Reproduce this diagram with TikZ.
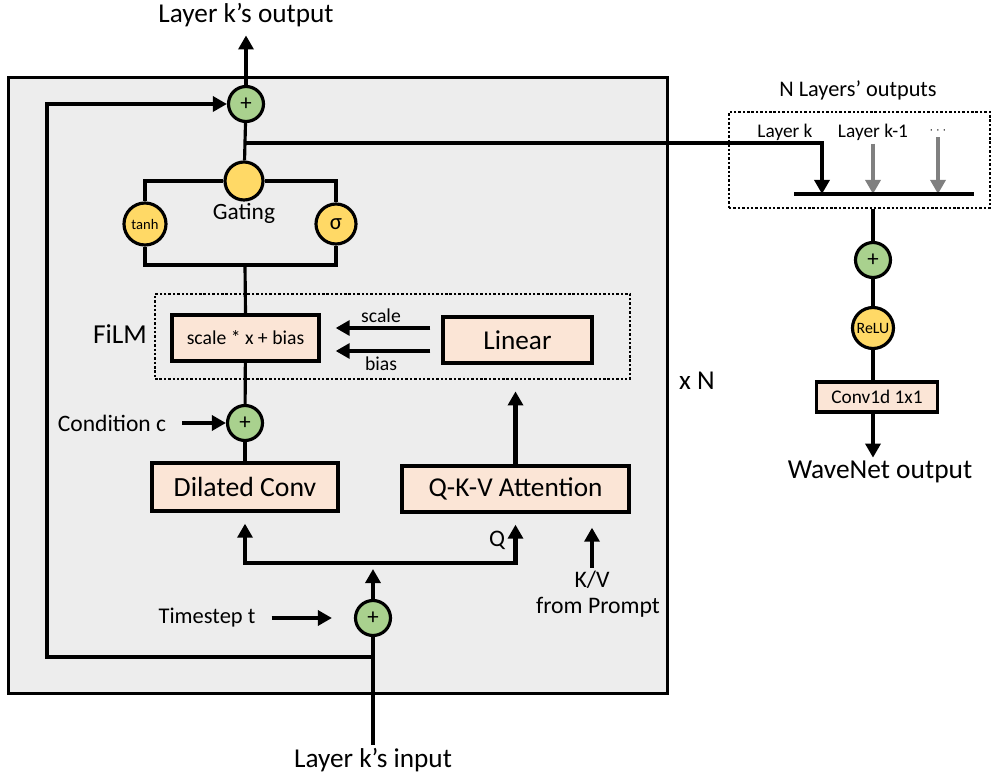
\documentclass[tikz,border=0pt]{standalone}
\usepackage{fontspec}
\setmainfont{Carlito}
\usepackage{tikz}
\usetikzlibrary{arrows.meta}
\usetikzlibrary{positioning}

\definecolor{addgreen}{HTML}{A9D18E}
\definecolor{gateyellow}{HTML}{FFD966}
\definecolor{boxpeach}{HTML}{FBE5D6}
\definecolor{layerbg}{HTML}{EDEDED}
\definecolor{otherlayer}{HTML}{808080}

\newcommand{\fsz}[1]{\fontsize{#1}{#1}\selectfont}

\begin{document}
\begin{tikzpicture}[x=0.02cm,y=-0.02cm,line width=1.8pt,
    >={Triangle[length=8pt,width=8.5pt]},
    arr/.style={->,line width=2.3pt},
    add node/.style={circle,draw,fill=addgreen,line width=1.8pt,inner sep=0pt,minimum size=0.7cm,font=\fsz{13}},
    gate node/.style={circle,draw,fill=gateyellow,line width=1.8pt,inner sep=0pt},
    block/.style={draw,fill=boxpeach,line width=1.9pt,inner sep=0pt},
    dot box/.style={draw,line width=1.6pt,dash pattern=on 1.4pt off 1.1pt,inner sep=0pt},
    lbl/.style={inner sep=1pt}]
  \useasboundingbox (0,0) rectangle (992,777);
  % the layer
  \node[draw,fill=layerbg,line width=1.7pt,minimum width=13.2cm,minimum height=12.34cm] (layer) at (338,385.5) {};
  \node[lbl,font=\fsz{15.5}] (outlbl) at (246,15) {Layer k’s output};
  \node[lbl,font=\fsz{15.5}] (inlbl) at (373,760) {Layer k’s input};
  \node[lbl,font=\fsz{15.5}] (xn) at (697,381) {x N};

  \node[add node] (addtop) at (246,104) {+};
  \node[gate node,minimum size=0.76cm] (gate) at (244,181) {};
  \node[lbl,font=\fsz{13.3}] (gatelbl) at (244,213) {Gating};
  \node[gate node,minimum size=0.84cm,font=\fsz{8.3}] (tanhc) at (145,224) {tanh};
  \node[gate node,minimum size=0.8cm,font=\fsz{13}] (sigc) at (336,224) {σ};
  \coordinate (gjoin) at (245,265);

  % FiLM
  \node[dot box,minimum width=9.5cm,minimum height=1.7cm] (film) at (392.5,336.5) {};
  \node[lbl,font=\fsz{15.6}] (filmlbl) at (120,334) {FiLM};
  \node[block,minimum width=2.94cm,minimum height=0.92cm,font=\fsz{11.2}] (scalebox) at (245.5,338) {scale * x + bias};
  \node[block,minimum width=2.98cm,minimum height=0.92cm,font=\fsz{15.5}] (linear) at (517.5,340) {Linear};

  \node[add node] (addcond) at (245,423) {+};
  \node[lbl,font=\fsz{13.4}] (condlbl) at (112,423) {Condition c};
  \node[block,minimum width=3.72cm,minimum height=0.96cm,font=\fsz{15.8}] (dilconv) at (245,487) {Dilated Conv};
  \node[block,minimum width=4.54cm,minimum height=0.92cm,font=\fsz{15.5}] (attn) at (515.5,489) {Q-K-V Attention};

  \coordinate (bus) at (373,563);
  \node[lbl,font=\fsz{13.5}] (qlbl) at (497,540) {Q};
  \node[lbl,font=\fsz{13.5}] (kvlbl) at (592,580) {K/V};
  \node[lbl,font=\fsz{13.5}] (promptlbl) at (598,607) {from Prompt};
  \node[add node] (addtime) at (373,618) {+};
  \node[lbl,font=\fsz{12.8}] (tlbl) at (207,618) {Timestep t};
  \coordinate (resc) at (373,657);
  \coordinate (resl) at (47,657);

  % the N layers
  \node[lbl,font=\fsz{12.7}] (stacklbl) at (858,90) {N Layers’ outputs};
  \node[dot box,minimum width=5.22cm,minimum height=1.92cm] (stack) at (859.5,160) {};
  \node[lbl,font=\fsz{11}] (lk) at (785,132) {Layer k};
  \node[lbl,font=\fsz{11}] (lk1) at (873,132) {Layer k-1};
  \node[lbl,font=\fsz{7}] (ldots) at (938,131) {$\cdots$};
  \coordinate (tap) at (246,143);
  \coordinate (barL) at (794,194);
  \coordinate (barK) at (822,194);
  \coordinate (barR) at (974,194);
  \node[add node] (addr) at (873,260) {+};
  \node[gate node,minimum size=0.82cm,font=\fsz{9}] (relu) at (873,328) {ReLU};
  \node[block,minimum width=2.42cm,minimum height=0.6cm,font=\fsz{11}] (conv) at (877,397) {Conv1d 1x1};
  \node[lbl,font=\fsz{15.6}] (wout) at (880,472) {WaveNet output};

  % connections in the layer
  \draw[arr,shorten >=3pt] (addtop) -- (outlbl);
  \draw (addtop) -- (gate);
  \draw (tanhc.north) |- (gate.west);
  \draw (sigc.north) |- (gate.east);
  \draw (tanhc.south) |- (gjoin) -| (sigc.south);
  \draw (gjoin) -- (scalebox.north);
  \draw[arr,shorten <=0.22cm,shorten >=0.3cm] ([yshift=0.24cm]linear.west) -- node[above,font=\fsz{11.2},inner sep=2pt] {scale} ([yshift=0.24cm]scalebox.east |- linear.west);
  \draw[arr,shorten <=0.22cm,shorten >=0.3cm] ([yshift=-0.22cm]linear.west) -- node[below,font=\fsz{11.2},inner sep=2pt] {bias} ([yshift=-0.22cm]scalebox.east |- linear.west);
  \draw (scalebox) -- (addcond);
  \draw (addcond) -- (dilconv);
  \draw[arr,shorten <=0.26cm] (condlbl.east) -- (addcond.west);
  \draw[arr,shorten >=0.22cm] (attn.north) -- (attn.north |- film.south);
  \draw[arr,shorten >=0.22cm] (bus) -| (dilconv.south);
  \draw[arr,shorten >=0.22cm] (bus) -| (attn.south);
  \draw[arr,shorten >=0.28cm] (kvlbl.north) -- (kvlbl.north |- attn.south);
  \draw[arr,shorten >=0.12cm] (addtime) -- (bus);
  \draw[arr,shorten <=0.26cm,shorten >=0.44cm] (tlbl.east) -- (addtime.west);
  \draw[line width=2.3pt] (inlbl.north) -- (addtime.south);
  \draw[arr] (resc) -- (resl) |- (addtop.west);

  % connections to the output
  \draw[arr] (tap) -| (barK);
  \draw[arr,otherlayer] (lk1.south) -- (lk1.south |- barL);
  \draw[arr,otherlayer] (ldots.south) -- (ldots.south |- barL);
  \draw (barL) -- (barR);
  \draw[line width=2.3pt] (stack.south -| addr) -- (addr);
  \draw[line width=2.3pt] (addr) -- (relu);
  \draw[line width=2.3pt] (relu) -- (conv.north -| relu);
  \draw[arr] (conv.south -| relu) -- (wout.north -| relu);
\end{tikzpicture}
\end{document}
